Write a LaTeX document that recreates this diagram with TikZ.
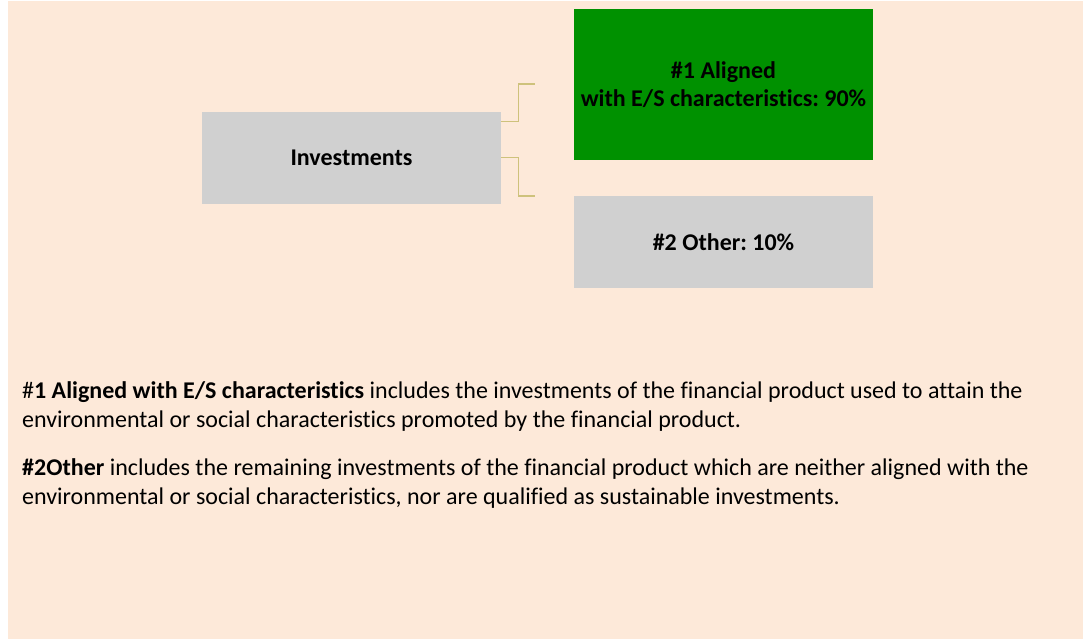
\documentclass[tikz,border=0pt]{standalone}
\usepackage{fontspec}
\setmainfont{Carlito}[Ligatures=NoCommon]
\definecolor{peach}{RGB}{253,233,217}
\definecolor{boxgray}{RGB}{208,208,208}
\definecolor{boxgreen}{RGB}{0,145,0}
\definecolor{bracket}{RGB}{206,194,124}
\begin{document}
\frenchspacing
\begin{tikzpicture}[x=1pt,y=-1pt,
  box/.style={rectangle, inner sep=0pt, minimum width=299pt, align=center,
    font=\fontsize{24}{28}\selectfont\bfseries},
  brk/.style={draw=bracket, line width=1.4pt},
  para/.style={anchor=north west, inner sep=0pt, align=left,
    font=\fontsize{24}{28.5}\selectfont}]
\useasboundingbox (0,0) rectangle (1087,639);
\fill[peach] (8,1) rectangle (1083,639);
\node[box, fill=boxgray, minimum height=92pt] (inv) at (351.5,158) {Investments};
\node[box, fill=boxgreen, minimum height=151pt] (al) at (723.5,84.5) {\#1 Aligned\\with E/S characteristics: 90\%};
\node[box, fill=boxgray, minimum height=92pt] (ot) at (723.5,242) {\#2 Other: 10\%};
\coordinate (b1) at (535,84);
\coordinate (b2) at (535,196);
\draw[brk] ([yshift=-10pt]inv.north east) -- ++(17,0) |- (b1);
\draw[brk] ([yshift=-46pt]inv.north east) -- ++(17,0) |- (b2);
\node[para] (p1) at (22,381.5) {\#\textbf{1 Aligned with E/S characteristics} includes the investments of the financial product used to attain the\\environmental or social characteristics promoted by the financial product.};
\node[para] (p2) at (22,458.5) {\textbf{\#2Other} includes the remaining investments of the financial product which are neither aligned with the\\environmental or social characteristics, nor are qualified as sustainable investments.};
\end{tikzpicture}
\end{document}
